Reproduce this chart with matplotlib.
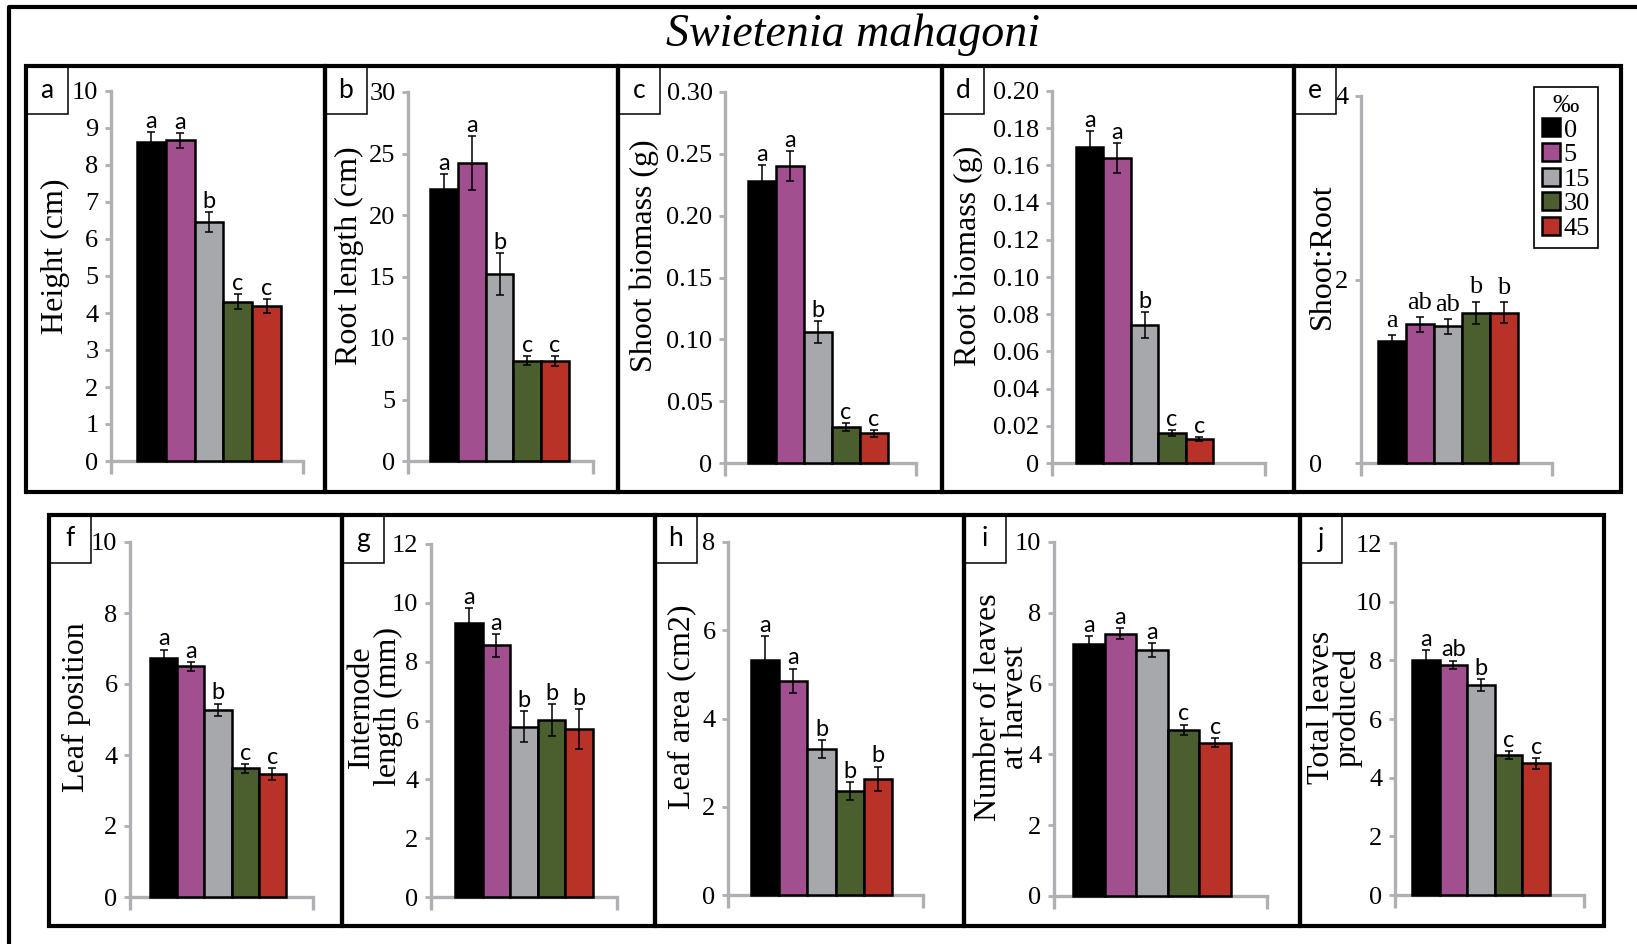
"""
Swietenia mahagoni seedling growth under five salinity levels (‰).
Ten bar panels (a-j) with SE error bars and significance letters.
"""

import matplotlib
matplotlib.use("Agg")
import matplotlib.pyplot as plt
import matplotlib.ticker as mticker
from matplotlib.lines import Line2D
from matplotlib.patches import Patch, Rectangle
import numpy as np

SERIF = ["Liberation Serif", "DejaVu Serif"]
SANS = ["Lato", "DejaVu Sans"]

matplotlib.rcParams.update({
    "font.family": SERIF,
    "font.size":   18,
    "axes.linewidth": 2.4,
})

W, H = 1637, 944

# ---- data -----------------------------------------------------------------
SALINITY = ["0", "5", "15", "30", "45"]
COLORS   = ["#000000", "#a14f8f", "#a7a8ab", "#4a5f2d", "#b83227"]

height       = [8.63, 8.67, 6.46, 4.30, 4.19]
height_se    = [0.25, 0.20, 0.26, 0.20, 0.19]
height_sig   = ["a", "a", "b", "c", "c"]

root_len     = [22.1, 24.2, 15.2, 8.15, 8.1]
root_len_se  = [1.2, 2.2, 1.7, 0.35, 0.4]
root_len_sig = ["a", "a", "b", "c", "c"]

shoot_bm     = [0.228, 0.240, 0.106, 0.029, 0.024]
shoot_bm_se  = [0.013, 0.012, 0.009, 0.0035, 0.0027]
shoot_bm_sig = ["a", "a", "b", "c", "c"]

root_bm      = [0.170, 0.164, 0.074, 0.016, 0.013]
root_bm_se   = [0.0086, 0.0082, 0.007, 0.0015, 0.0011]
root_bm_sig  = ["a", "a", "b", "c", "c"]

shoot_root     = [1.33, 1.51, 1.49, 1.64, 1.64]
shoot_root_se  = [0.06, 0.08, 0.08, 0.12, 0.11]
shoot_root_sig = ["a", "ab", "ab", "b", "b"]

leaf_pos     = [6.72, 6.50, 5.27, 3.62, 3.46]
leaf_pos_se  = [0.25, 0.12, 0.18, 0.13, 0.17]
leaf_pos_sig = ["a", "a", "b", "c", "c"]

internode     = [9.33, 8.55, 5.79, 6.02, 5.72]
internode_se  = [0.49, 0.38, 0.53, 0.55, 0.68]
internode_sig = ["a", "a", "b", "b", "b"]

leaf_area     = [5.32, 4.85, 3.31, 2.36, 2.63]
leaf_area_se  = [0.54, 0.28, 0.20, 0.20, 0.28]
leaf_area_sig = ["a", "a", "b", "b", "b"]

n_leaves     = [7.12, 7.41, 6.94, 4.70, 4.33]
n_leaves_se  = [0.23, 0.15, 0.20, 0.14, 0.13]
n_leaves_sig = ["a", "a", "a", "c", "c"]

tot_leaves     = [8.02, 7.85, 7.16, 4.77, 4.49]
tot_leaves_se  = [0.34, 0.14, 0.21, 0.15, 0.18]
tot_leaves_sig = ["a", "ab", "b", "c", "c"]

# ---- layout (pixels in the 1637x944 canvas) --------------------------------
# key, ylabel, data, se, sig, ymax, ystep, decimals,
# axes (left, right, top, bottom), bars (left, right), label x, label y, box (x0, x1, y0, y1)
PANELS = [
    ("a", "Height (cm)", height, height_se, height_sig, 10, 1, 0,
     (111, 303, 91, 461), (137, 281), 55, 256, (26, 325, 66, 492)),
    ("b", "Root length (cm)", root_len, root_len_se, root_len_sig, 30, 5, 0,
     (408, 593, 92, 461), (430, 569), 349, 256, (325, 618, 66, 492)),
    ("c", "Shoot biomass (g)", shoot_bm, shoot_bm_se, shoot_bm_sig, 0.30, 0.05, 2,
     (725, 916, 92, 463), (748, 888), 644, 256, (618, 942, 66, 492)),
    ("d", "Root biomass (g)", root_bm, root_bm_se, root_bm_sig, 0.20, 0.02, 2,
     (1052, 1265, 91, 463), (1076, 1213), 968, 256, (942, 1294, 66, 492)),
    ("e", "Shoot:Root", shoot_root, shoot_root_se, shoot_root_sig, 4, 2, 0,
     (1361, 1552, 96, 463), (1378, 1518), 1322, 256, (1294, 1621, 66, 492)),
    ("f", "Leaf position", leaf_pos, leaf_pos_se, leaf_pos_sig, 10, 2, 0,
     (130, 313, 542, 897), (150, 286), 76, 707, (49, 342, 515, 926)),
    ("g", "Internode\nlength (mm)", internode, internode_se, internode_sig, 12, 2, 0,
     (431, 617, 544, 897), (455, 593), 375, 707, (342, 655, 515, 926)),
    ("h", "Leaf area (cm2)", leaf_area, leaf_area_se, leaf_area_sig, 8, 2, 0,
     (728, 923, 542, 895), (751, 892), 682, 707, (655, 964, 515, 926)),
    ("i", "Number of leaves\nat harvest", n_leaves, n_leaves_se, n_leaves_sig, 10, 2, 0,
     (1054, 1267, 542, 896), (1073, 1231), 1002, 707, (964, 1300, 515, 926)),
    ("j", "Total leaves\nproduced", tot_leaves, tot_leaves_se, tot_leaves_sig, 12, 2, 0,
     (1395, 1584, 543, 895), (1412, 1550), 1335, 707, (1300, 1604, 515, 926)),
]

GREY = "#aeb0b3"


def fx(x):
    return x / W


def fy(y):
    return 1 - y / H


def tick_fmt(dec, zero):
    def f(v, _):
        if abs(v) < 1e-12:
            return zero
        return f"{v:.{dec}f}"
    return mticker.FuncFormatter(f)


def build_figure():
    fig = plt.figure(figsize=(W / 100, H / 100), dpi=100)

    # outer frame (open on the right and bottom, as cropped)
    fig.add_artist(Line2D([fx(9), fx(9), fx(W)], [fy(H), fy(7), fy(7)],
                          transform=fig.transFigure, color="black", lw=3.0))
    fig.text(fx(853), fy(35), "Swietenia mahagoni", ha="center", va="center",
             fontsize=33, style="italic", family=SERIF)

    x = np.arange(len(SALINITY))
    for (key, ylabel, vals, se, sig, ymax, ystep, dec,
         (l, r, t, b), (bl, br), lx, ly, (x0, x1, y0, y1)) in PANELS:

        # panel frame + letter box
        fig.add_artist(Rectangle((fx(x0), fy(y1)), (x1 - x0) / W, (y1 - y0) / H,
                                 transform=fig.transFigure, fill=False,
                                 edgecolor="black", lw=3.0))
        fig.add_artist(Rectangle((fx(x0), fy(y0 + 48)), 42 / W, 48 / H,
                                 transform=fig.transFigure, fill=False,
                                 edgecolor="black", lw=1.1))
        fig.text(fx(x0 + 21), fy(y0 + 24), key, ha="center", va="center",
                 fontsize=19, family=SANS)

        ax = fig.add_axes([fx(l), fy(b), (r - l) / W, (b - t) / H])
        ax.set_facecolor("none")

        bw = (br - bl) / 5.0
        xlo = -0.5 - (bl - l) / bw
        xhi = 4.5 + (r - br) / bw

        ax.bar(x, vals, width=1.0, color=COLORS, edgecolor="black",
               linewidth=1.8, zorder=3, clip_on=False)
        ax.errorbar(x, vals, yerr=se, fmt="none", ecolor="black",
                    elinewidth=1.1, capsize=2.8, capthick=1.1, zorder=4,
                    clip_on=False)

        serif_sig = key == "e"
        for xi, v, e, s in zip(x, vals, se, sig):
            ax.annotate(s, xy=(xi, v + e), xytext=(0, 6 if serif_sig else 3),
                        textcoords="offset points", ha="center", va="baseline",
                        fontsize=19 if serif_sig else 17,
                        family=SERIF if serif_sig else SANS)

        ax.set_xlim(xlo, xhi)
        ax.set_ylim(0, ymax)
        ax.set_yticks(np.arange(0, ymax + ystep / 2, ystep))
        ax.yaxis.set_major_formatter(tick_fmt(dec, "0    " if key == "e" else "0"))
        ax.set_xticks([xlo, xhi])
        ax.tick_params(axis="x", direction="out", length=9, width=2.4,
                       color=GREY, labelbottom=False)
        ax.tick_params(axis="y", direction="out", length=4, width=2.0,
                       color=GREY, labelsize=19, pad=5)

        for side in ("top", "right"):
            ax.spines[side].set_visible(False)
        for side in ("left", "bottom"):
            ax.spines[side].set_color(GREY)
            ax.spines[side].set_linewidth(2.4)

        ax.set_ylabel(ylabel, fontsize=23, va="center", ha="center",
                      linespacing=0.88, multialignment="center")
        ax.yaxis.set_label_coords(fx(lx), fy(ly), transform=fig.transFigure)

        if key == "e":
            handles = [Patch(facecolor=c, edgecolor="black", linewidth=1.8)
                       for c in COLORS]
            leg = ax.legend(handles, SALINITY, title="‰", loc="upper left",
                            bbox_to_anchor=(fx(1534), fy(87)),
                            bbox_transform=fig.transFigure, borderaxespad=0,
                            frameon=True, fancybox=False, framealpha=1,
                            edgecolor="black", borderpad=0.3,
                            handlelength=0.68, handleheight=0.68,
                            handletextpad=0.15, labelspacing=0.05,
                            prop={"family": SERIF, "size": 19},
                            title_fontsize=19)
            leg.get_frame().set_linewidth(1.2)

    return fig


def main():
    fig = build_figure()
    fig.savefig("out.png", dpi=100)
    plt.close(fig)


if __name__ == "__main__":
    main()
